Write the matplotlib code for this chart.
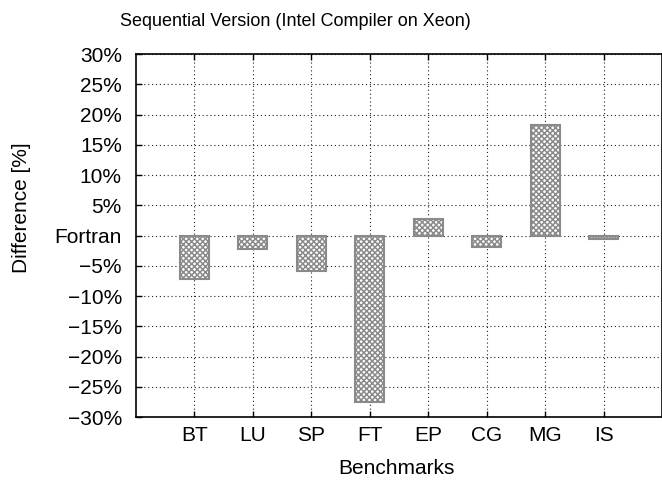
import matplotlib

matplotlib.use("Agg")
import matplotlib.pyplot as plt
import numpy as np

plt.rcParams["font.family"] = ["Liberation Sans", "DejaVu Sans"]
plt.rcParams["hatch.linewidth"] = 1.1
plt.rcParams["hatch.color"] = "#7f7f7f"

BENCHMARKS = ["BT", "LU", "SP", "FT", "EP", "CG", "MG", "IS"]
DIFF = [-7.2, -2.25, -5.9, -27.5, 2.8, -1.8, 18.3, -0.55]
YTICKS = [30, 25, 20, 15, 10, 5, 0, -5, -10, -15, -20, -25, -30]
YLABELS = ["30%", "25%", "20%", "15%", "10%", "5%", "Fortran",
           "\u22125%", "\u221210%", "\u221215%", "\u221220%", "\u221225%",
           "\u221230%"]
FS = 15
FS_TITLE = 13


def main() -> None:
    fig = plt.figure(figsize=(6.62, 4.84), dpi=100)
    ax = fig.add_axes([0.205, 0.138, 0.7955, 0.750])

    x = np.arange(1, len(BENCHMARKS) + 1)
    ax.bar(x, DIFF, 0.5, facecolor="white", edgecolor="#8a8a8a",
           linewidth=1.5, hatch="xxxxxx", zorder=3)

    ax.set_xlim(0, 9)
    ax.set_ylim(-30, 30)
    ax.set_xticks(x)
    ax.set_xticklabels(BENCHMARKS, fontsize=FS)
    ax.set_yticks(YTICKS)
    ax.set_yticklabels(YLABELS, fontsize=FS)
    ax.tick_params(axis="y", direction="in", length=4, width=1.0,
                   pad=10, left=True, right=False)
    ax.tick_params(axis="x", direction="in", length=4, width=1.0,
                   pad=6, top=True, bottom=True)
    ax.grid(True, color="#222222", linestyle=(0, (1, 2.5)), linewidth=0.8,
            zorder=1)
    ax.set_axisbelow(True)
    for s in ax.spines.values():
        s.set_linewidth(1.2)
        s.set_color("black")

    fig.text(0.446, 1 - 21 / 484, "Sequential Version (Intel Compiler on Xeon)",
             ha="center", va="center", fontsize=FS_TITLE)
    fig.text(22 / 662, 1 - 208 / 484, "Difference [%]", rotation=90,
             ha="center", va="center", fontsize=FS)
    fig.text(396 / 662, 1 - 468 / 484, "Benchmarks",
             ha="center", va="center", fontsize=FS)

    fig.savefig("out.png", dpi=100)
    plt.close(fig)


if __name__ == "__main__":
    main()
